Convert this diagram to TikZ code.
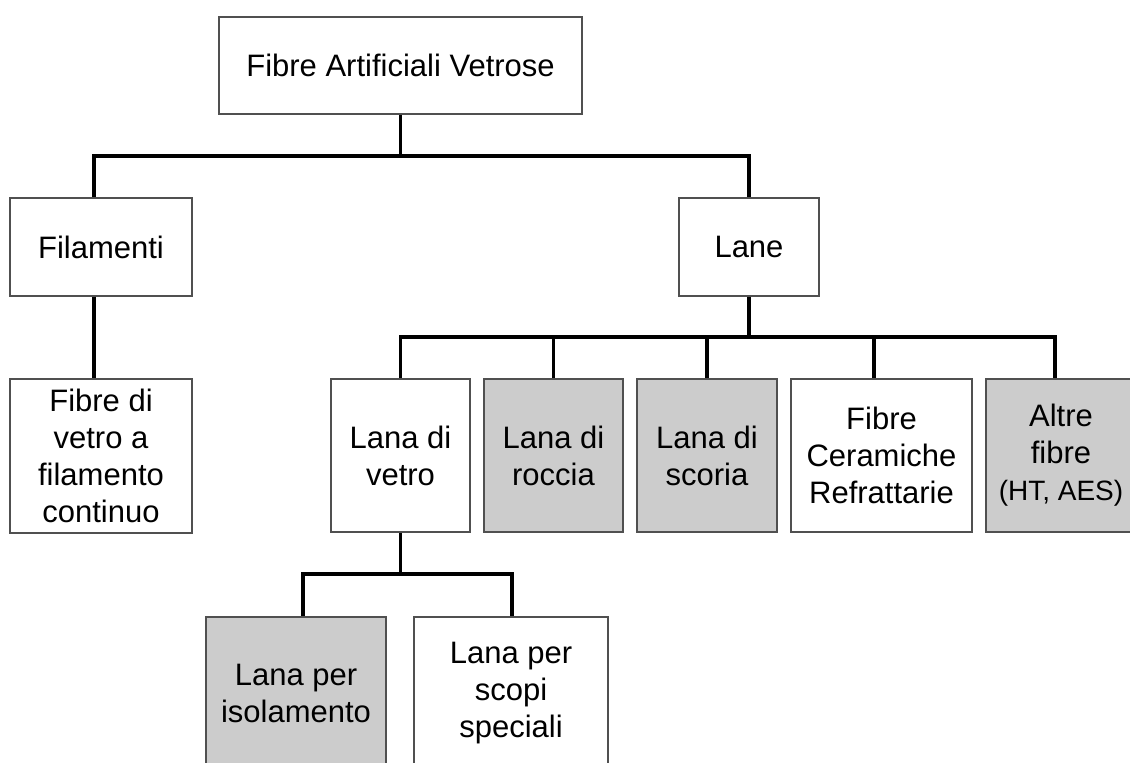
\documentclass[tikz,border=0pt]{standalone}
\usepackage{fontspec}
\setmainfont{Liberation Sans}
\usetikzlibrary{positioning}
\definecolor{boxgray}{HTML}{CCCCCC}
\definecolor{edgegray}{HTML}{505050}
\tikzset{
  box/.style={draw=edgegray, line width=1.6pt, fill=white, rectangle, inner sep=0pt,
    align=center, font=\fontsize{31}{37}\selectfont, text=black},
  graybox/.style={box, fill=boxgray},
  conn/.style={draw=black, line width=3.2pt, line join=miter}
}
\begin{document}
\begin{tikzpicture}[x=1pt,y=1pt]
\useasboundingbox (0,0) rectangle (1130,-763);
\clip (0,0) rectangle (1130,-763);
\fill[white] (0,0) rectangle (1130,-763);

% nodes
\node[box, minimum width=363pt, minimum height=97pt] (top) at (400.5,-65.5) {Fibre Artificiali Vetrose};
\node[box, minimum width=182pt, minimum height=98pt] (fil) at (101,-247) {Filamenti};
\node[box, minimum width=140pt, minimum height=98pt] (lane) at (749,-247) {Lane};
\node[box, minimum width=182pt, minimum height=154pt] (fvc) at (101,-456) {Fibre di\\vetro a\\filamento\\continuo};
\node[box, minimum width=139pt, minimum height=153pt] (lv) at (400.5,-455.5) {Lana di\\vetro};
\node[graybox, minimum width=139pt, minimum height=153pt] (lr) at (553.5,-455.5) {Lana di\\roccia};
\node[graybox, minimum width=140pt, minimum height=153pt] (ls) at (707,-455.5) {Lana di\\scoria};
\node[box, minimum width=181pt, minimum height=153pt] (fcr) at (881.5,-455.5) {Fibre\\Ceramiche\\Refrattarie};
\node[graybox, minimum width=150pt, minimum height=153pt] (af) at (1061,-455.5) {Altre\\fibre\\{\fontsize{28}{37}\selectfont(HT, AES)}};
\node[graybox, minimum width=180pt, minimum height=153pt] (lpi) at (296,-693.5) {Lana per\\isolamento};
\node[box, minimum width=194pt, minimum height=153pt] (lps) at (511,-693.5) {Lana per\\scopi\\speciali};

% bus junctions
\coordinate (busA) at (400.5,-156);
\coordinate (busB) at (749,-337);
\coordinate (busC) at (400.5,-574);

% connectors
\draw[conn] (top.south) -- (busA);
\draw[conn] ([xshift=-7pt]fil.north) |- (busA) -| (lane.north);
\draw[conn] ([xshift=-7pt]fil.south) -- ([xshift=-7pt]fvc.north);

\draw[conn] (lane.south) -- (busB);
\draw[conn] (lv.north) |- (busB) -| ([xshift=-6pt]af.north);
\draw[conn] (lr.north) -- (lr.north |- busB);
\draw[conn] (ls.north) -- (ls.north |- busB);
\draw[conn] ([xshift=-7.5pt]fcr.north) -- ([xshift=-7.5pt]fcr.north |- busB);

\draw[conn] (lv.south) -- (busC);
\draw[conn] ([xshift=7pt]lpi.north) |- (busC) -| ([xshift=1pt]lps.north);
\end{tikzpicture}
\end{document}
